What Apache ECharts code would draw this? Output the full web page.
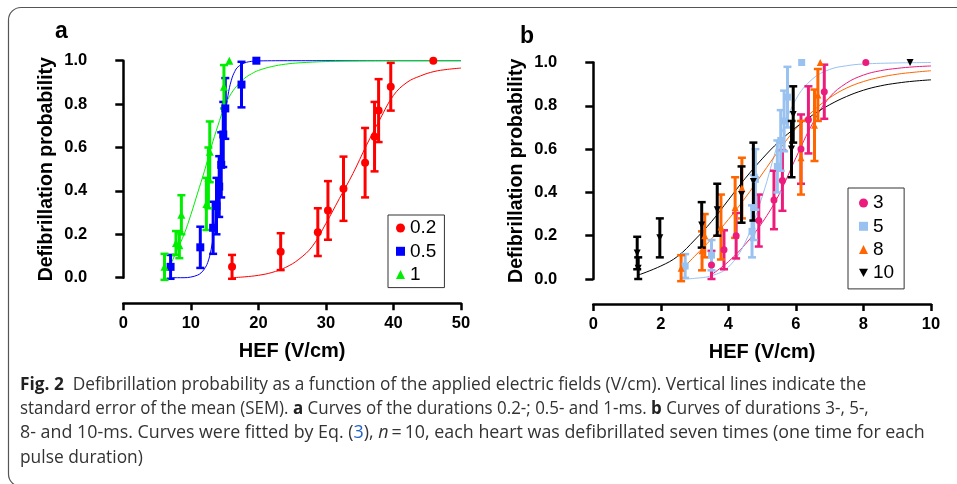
<!DOCTYPE html>
<html>
<head>
<meta charset="utf-8">
<script src="https://cdn.jsdelivr.net/npm/echarts@6/dist/echarts.min.js"></script>
<style>
  html, body { margin: 0; padding: 0; background: #fff; }
  #chart { width: 957px; height: 484px; }
</style>
</head>
<body>
<div id="chart"></div>
<script>
// panel a: pulse durations 0.2, 0.5, 1 ms
const hef02 = [16.1, 23.3, 28.8, 30.3, 32.6, 35.8, 37.2, 37.8, 39.6, 45.9];
const prob02 = [0.05, 0.12, 0.21, 0.31, 0.41, 0.53, 0.65, 0.77, 0.88, 1.0];
const sem02 = [0.055, 0.085, 0.11, 0.135, 0.148, 0.16, 0.16, 0.145, 0.11, 0];
const fitX02 = [16.1, 18, 20, 22, 24, 26, 28, 30, 32, 34, 36, 38, 40, 42, 44, 46, 48, 50];
const fitY02 = [0, 0.004, 0.011, 0.024, 0.047, 0.085, 0.145, 0.25, 0.365, 0.48, 0.61, 0.73, 0.84, 0.9, 0.93, 0.95, 0.96, 0.966];

const hef05 = [7.0, 11.4, 13.3, 13.8, 14.2, 14.5, 14.8, 15.1, 17.5, 19.7];
const prob05 = [0.05, 0.14, 0.23, 0.33, 0.42, 0.52, 0.66, 0.78, 0.89, 1.0];
const sem05 = [0.055, 0.095, 0.12, 0.13, 0.14, 0.15, 0.15, 0.14, 0.105, 0];
const fitX05 = [6.9, 8, 9, 10, 11, 11.5, 12, 12.5, 13, 13.5, 14, 14.5, 15, 15.5, 16, 16.5, 17, 18, 19, 20, 25, 30, 40, 50];
const fitY05 = [0, 0, 0, 0.003, 0.012, 0.022, 0.04, 0.07, 0.13, 0.23, 0.37, 0.55, 0.72, 0.84, 0.91, 0.95, 0.972, 0.99, 0.997, 0.999, 1, 1, 1, 1];

const hef1 = [6.1, 7.8, 8.3, 8.6, 12.3, 12.6, 12.8, 14.9, 15.7];
const prob1 = [0.05, 0.16, 0.15, 0.29, 0.34, 0.46, 0.58, 0.88, 1.0];
const sem1 = [0.06, 0.055, 0.06, 0.09, 0.12, 0.14, 0.14, 0.1, 0];
const fitX1 = [7.0, 8, 9, 10, 11, 12, 13, 14, 15, 16, 17, 18, 19, 20, 22, 24, 26, 30, 35, 40, 50];
const fitY1 = [0.06, 0.13, 0.2, 0.29, 0.39, 0.49, 0.6, 0.7, 0.79, 0.85, 0.89, 0.92, 0.94, 0.955, 0.973, 0.984, 0.99, 0.996, 0.999, 1, 1];

// panel b: pulse durations 3, 5, 8, 10 ms
const hef3 = [3.5, 3.87, 4.23, 4.9, 5.35, 5.6, 6.15, 6.37, 6.84, 8.07];
const prob3 = [0.065, 0.135, 0.2, 0.27, 0.365, 0.455, 0.6, 0.735, 0.865, 1.0];
const sem3 = [0.065, 0.09, 0.105, 0.12, 0.135, 0.14, 0.16, 0.155, 0.125, 0];
const fitX3 = [3.5, 4, 4.5, 5, 5.5, 6, 6.5, 7, 7.5, 8, 8.5, 9, 9.5, 10];
const fitY3 = [0.02, 0.08, 0.16, 0.26, 0.39, 0.56, 0.72, 0.84, 0.905, 0.942, 0.962, 0.973, 0.98, 0.984];

const hef5 = [2.72, 3.5, 4.7, 4.75, 4.8, 5.45, 5.55, 5.65, 5.75, 6.17];
const prob5 = [0.06, 0.11, 0.22, 0.33, 0.46, 0.52, 0.64, 0.73, 0.84, 1.0];
const sem5 = [0.055, 0.07, 0.12, 0.15, 0.14, 0.12, 0.14, 0.14, 0.14, 0];
const fitX5 = [2.65, 3, 3.5, 4, 4.5, 5, 5.5, 6, 6.5, 7, 7.5, 8, 9, 10];
const fitY5 = [0, 0.003, 0.015, 0.055, 0.17, 0.38, 0.64, 0.83, 0.925, 0.968, 0.985, 0.993, 0.998, 1.0];

const hef8 = [2.6, 3.22, 3.3, 3.78, 4.2, 4.4, 6.15, 6.55, 6.65, 6.72];
const prob8 = [0.05, 0.13, 0.2, 0.24, 0.33, 0.42, 0.56, 0.71, 0.85, 1.0];
const sem8 = [0.06, 0.09, 0.1, 0.15, 0.14, 0.14, 0.17, 0.165, 0.12, 0];
const fitX8 = [2.6, 3, 3.5, 4, 4.5, 5, 5.5, 6, 6.5, 7, 7.5, 8, 8.5, 9, 9.5, 10];
const fitY8 = [0.04, 0.105, 0.185, 0.275, 0.375, 0.485, 0.595, 0.695, 0.775, 0.837, 0.882, 0.912, 0.932, 0.946, 0.955, 0.962];

const hef10 = [1.3, 1.33, 1.97, 3.21, 3.67, 4.39, 4.74, 5.87, 5.92, 9.38];
const prob10 = [0.12, 0.05, 0.19, 0.25, 0.32, 0.39, 0.45, 0.6, 0.76, 1.0];
const sem10 = [0.075, 0.05, 0.09, 0.105, 0.12, 0.13, 0.18, 0.13, 0.13, 0];
const fitX10 = [1.33, 2, 2.5, 3, 3.5, 4, 4.5, 5, 5.5, 6, 6.5, 7, 7.5, 8, 8.5, 9, 9.5, 10];
const fitY10 = [0.018, 0.06, 0.105, 0.18, 0.265, 0.365, 0.465, 0.555, 0.635, 0.70, 0.758, 0.805, 0.843, 0.872, 0.892, 0.905, 0.914, 0.92];

const xTicksA = [0, 10, 20, 30, 40, 50];
const xTicksB = [0, 2, 4, 6, 8, 10];

const FONT = '"Liberation Sans", Arial, sans-serif';
const INV_TRI = 'path://M0,0L10,0L5,9Z';

function renderBars(params, api) {
  const x = api.value(0), y = api.value(1), e = api.value(2);
  if (!e) return;
  const top = api.coord([x, y + e]);
  const bot = api.coord([x, y - e]);
  const c = api.visual('color');
  const w = 4;
  return {
    type: 'group',
    children: [
      { type: 'line', shape: { x1: top[0], y1: top[1], x2: bot[0], y2: bot[1] }, style: { stroke: c, lineWidth: 3 } },
      { type: 'line', shape: { x1: top[0] - w, y1: top[1], x2: top[0] + w, y2: top[1] }, style: { stroke: c, lineWidth: 2.5 } },
      { type: 'line', shape: { x1: bot[0] - w, y1: bot[1], x2: bot[0] + w, y2: bot[1] }, style: { stroke: c, lineWidth: 2.5 } }
    ]
  };
}

function group(name, xs, ys, errs, fx, fy, color, symbol, size, gi) {
  const pts = xs.map((x, i) => [x, ys[i], errs[i]]);
  return [
    {
      type: 'line', xAxisIndex: gi, yAxisIndex: gi, z: 2,
      data: fx.map((x, i) => [x, fy[i]]),
      showSymbol: false, smooth: 0.4, clip: false,
      lineStyle: { color, width: 1 }, itemStyle: { color }, silent: true
    },
    {
      type: 'custom', name, xAxisIndex: gi, yAxisIndex: gi, z: 3,
      renderItem: renderBars, data: pts, clip: false,
      encode: { x: 0, y: 1 }, itemStyle: { color }
    },
    {
      type: 'scatter', name, xAxisIndex: gi, yAxisIndex: gi, z: 4,
      data: pts, symbol, symbolSize: size, clip: false,
      itemStyle: { color, opacity: 1 }
    }
  ];
}

function xAxis(gi, min, max, interval, offset) {
  return {
    type: 'value', gridIndex: gi, min, max, interval, offset, position: 'bottom',
    name: 'HEF (V/cm)', nameLocation: 'middle', nameGap: 38,
    nameTextStyle: { fontFamily: FONT, fontWeight: 'bold', fontSize: 20, color: '#000' },
    axisLine: { show: true, onZero: false, lineStyle: { color: '#000', width: 2.5 } },
    axisTick: { show: true, length: 7, lineStyle: { color: '#000', width: 2.5 } },
    axisLabel: { fontFamily: FONT, fontWeight: 'bold', fontSize: 16.5, color: '#000', margin: 12 },
    splitLine: { show: false }
  };
}

function yAxis(gi, offset) {
  return {
    type: 'value', gridIndex: gi, min: 0, max: 1, interval: 0.2, offset, position: 'left',
    name: 'Defibrillation probability', nameLocation: 'middle', nameGap: 42, nameRotate: 90,
    nameTextStyle: { fontFamily: FONT, fontWeight: 'bold', fontSize: 19.5, color: '#000' },
    axisLine: { show: true, lineStyle: { color: '#000', width: 2.5 } },
    axisTick: { show: true, length: 8, lineStyle: { color: '#000', width: 2.5 } },
    axisLabel: { fontFamily: FONT, fontWeight: 'bold', fontSize: 16.5, color: '#000', margin: 11,
      formatter: v => v.toFixed(1) },
    splitLine: { show: false }
  };
}

function legend(left, top, padding, items) {
  return {
    orient: 'vertical', left, top, padding, itemGap: 3.3, itemWidth: 9, itemHeight: 9,
    selectedMode: false, borderColor: '#333', borderWidth: 1, backgroundColor: '#fff',
    textStyle: { fontFamily: FONT, fontSize: 19, color: '#000', lineHeight: 20 },
    data: items
  };
}

// caption, squeezed toward the reference line ends
const CAP_FONT = '"Open Sans", sans-serif';
const CAP_SIZE = 18;
const capLines = [
  ['{b|Fig. 2}  Defibrillation probability as a function of the applied electric fields (V/cm). Vertical lines indicate the', 385, 862],
  ['standard error of the mean (SEM). {b|a} Curves of the durations 0.2-; 0.5- and 1-ms. {b|b} Curves of durations 3-, 5-,', 409, 848],
  ['8- and 10-ms. Curves were fitted by Eq. ({l|3}), {i|n}\u2009=\u200910, each heart was defibrillated seven times (one time for each', 433, 950],
  ['pulse duration)', 458, 148]
];
const mctx = document.createElement('canvas').getContext('2d');
function tw(str, weight, style) {
  mctx.font = (style || 'normal') + ' ' + (weight || 'normal') + ' ' + CAP_SIZE + 'px ' + CAP_FONT;
  return mctx.measureText(str).width;
}
function measureRich(t) {
  let w = 0;
  t.replace(/\{(\w)\|([^}]*)\}|([^{]+)/g, (m, k, inner, plain) => {
    if (plain) w += tw(plain);
    else w += tw(inner, k === 'b' ? 'bold' : 'normal', k === 'i' ? 'italic' : 'normal');
    return m;
  });
  return w;
}
const lineScales = capLines.map(([t, , end]) => (end - 20) / measureRich(t));
const meanScale = (lineScales[0] + lineScales[1] + lineScales[2]) / 3;
const rich = {
  b: { fontFamily: CAP_FONT, fontSize: CAP_SIZE, fontWeight: 'bold', fill: '#222' },
  l: { fontFamily: CAP_FONT, fontSize: CAP_SIZE, fill: '#2563c9' },
  i: { fontFamily: CAP_FONT, fontSize: CAP_SIZE, fontStyle: 'italic', fill: '#333' }
};

const frameStyle = { fill: null, stroke: '#555', lineWidth: 1.2 };
const graphic = [
  { type: 'line', silent: true, shape: { x1: 21, y1: 7.5, x2: 960, y2: 7.5 }, style: frameStyle },
  { type: 'arc', silent: true, shape: { cx: 21, cy: 20, r: 12.5, startAngle: Math.PI, endAngle: Math.PI * 1.5, clockwise: true }, style: frameStyle },
  { type: 'line', silent: true, shape: { x1: 8.5, y1: 20, x2: 8.5, y2: 474 }, style: frameStyle },
  { type: 'arc', silent: true, shape: { cx: 21, cy: 474, r: 12.5, startAngle: Math.PI * 0.5, endAngle: Math.PI, clockwise: true }, style: frameStyle },
  { type: 'text', x: 55, y: 31.5, style: { text: 'a', fontFamily: FONT, fontWeight: 'bold', fontSize: 23, fill: '#000', verticalAlign: 'middle' } },
  { type: 'text', x: 520, y: 36.5, style: { text: 'b', fontFamily: FONT, fontWeight: 'bold', fontSize: 23, fill: '#000', verticalAlign: 'middle' } }
].concat(capLines.map(([t, y], i) => ({
  type: 'text', x: 20, y, scaleX: i < 3 ? (lineScales[i] + meanScale) / 2 : meanScale,
  style: { text: t, rich, fontFamily: CAP_FONT, fontSize: CAP_SIZE, fill: '#333', verticalAlign: 'middle' }
})));

const chart = echarts.init(document.getElementById('chart'), null, { renderer: 'canvas' });
chart.setOption({
  animation: false,
  backgroundColor: '#fff',
  grid: [
    { left: 123.3, top: 60.7, width: 337.7, height: 217 },
    { left: 593.3, top: 62.5, width: 337.7, height: 216.5 }
  ],
  xAxis: [xAxis(0, xTicksA[0], xTicksA[xTicksA.length - 1], xTicksA[1] - xTicksA[0], 25.6),
          xAxis(1, xTicksB[0], xTicksB[xTicksB.length - 1], xTicksB[1] - xTicksB[0], 25)],
  yAxis: [yAxis(0, 25), yAxis(1, 25)],
  legend: [
    legend(388, 215, [3, 8, 3, 8], [
      { name: '0.2', icon: 'circle' }, { name: '0.5', icon: 'rect' }, { name: '1', icon: 'triangle' }]),
    legend(848, 188, [5, 10, 6, 11], [
      { name: '3', icon: 'circle' }, { name: '5', icon: 'rect' }, { name: '8', icon: 'triangle' }, { name: '10', icon: INV_TRI }])
  ],
  graphic,
  series: [].concat(
    group('0.2', hef02, prob02, sem02, fitX02, fitY02, '#ff0000', 'circle', 8, 0),
    group('0.5', hef05, prob05, sem05, fitX05, fitY05, '#0000ff', 'rect', 8, 0),
    group('1', hef1, prob1, sem1, fitX1, fitY1, '#00ee00', 'triangle', 8, 0),
    group('3', hef3, prob3, sem3, fitX3, fitY3, '#ec1c7c', 'circle', 7, 1),
    group('5', hef5, prob5, sem5, fitX5, fitY5, '#99c2f0', 'rect', 7, 1),
    group('8', hef8, prob8, sem8, fitX8, fitY8, '#ff6600', 'triangle', 7, 1),
    group('10', hef10, prob10, sem10, fitX10, fitY10, '#000000', INV_TRI, 7, 1)
  )
});
window.addEventListener('resize', () => chart.resize());
</script>
</body>
</html>
